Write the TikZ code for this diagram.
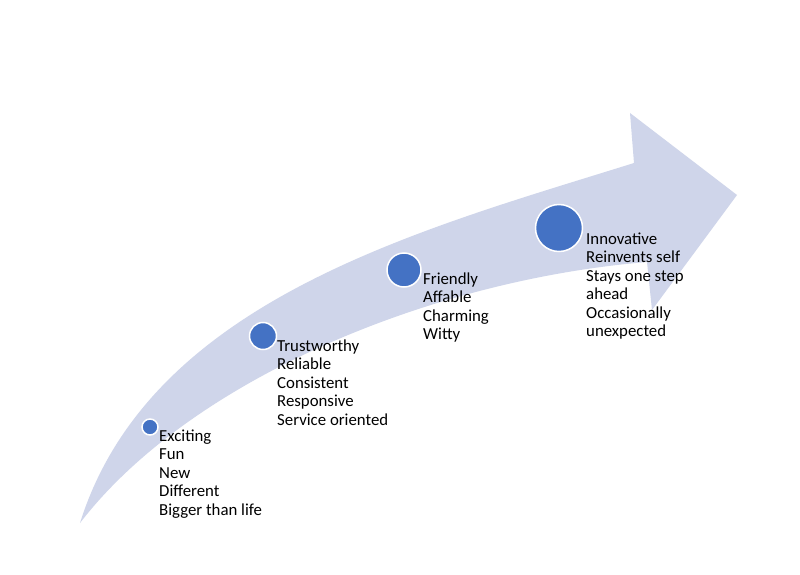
\documentclass[tikz,border=0pt]{standalone}
\usepackage{fontspec}
\setmainfont{Carlito}
\definecolor{bandcol}{RGB}{207,213,234}
\definecolor{dotcol}{RGB}{68,114,196}
\newcommand\stk[1]{\begin{tabular}[t]{@{}l@{}}#1\end{tabular}}
\tikzset{
  dot/.style={circle, fill=dotcol, draw=white, line width=1.5pt, inner sep=0pt},
  lbl/.style={anchor=base west, inner sep=0pt, font=\fontsize{16.8}{18.5}\selectfont},
}
\begin{document}
\begin{tikzpicture}[x=1pt, y=-1pt]
\useasboundingbox (0,0) rectangle (800,575);
\fill[white] (0,0) rectangle (800,575);
% curved arrow band
\fill[bandcol] (80,523) .. controls (150,300) and (420,230) .. (634,163)
  -- (630,113) -- (737,195) -- (652,310) -- (647,262)
  .. controls (430,280) and (190,380) .. (80,523) -- cycle;
% circles
\node[dot, minimum size=16pt] (c1) at (150,427) {};
\node[dot, minimum size=27pt] (c2) at (263,336) {};
\node[dot, minimum size=34pt] (c3) at (404,270) {};
\node[dot, minimum size=47pt] (c4) at (559,228) {};
% labels
\node[lbl] (t1) at (159,441) {\stk{Exciting\\Fun\\New\\Different\\Bigger than life}};
\node[lbl] (t2) at (277,351) {\stk{Trustworthy\\Reliable\\Consistent\\Responsive\\Service oriented}};
\node[lbl] (t3) at (423,284) {\stk{Friendly\\Affable\\Charming\\Witty}};
\node[lbl] (t4) at (586,244) {\stk{Innovative\\Reinvents self\\Stays one step\\ahead\\Occasionally\\unexpected}};
\end{tikzpicture}
\end{document}
